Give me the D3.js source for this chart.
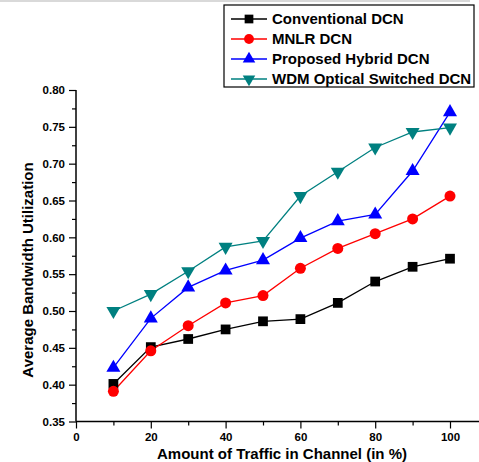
<!DOCTYPE html>
<html>
<head>
<meta charset="utf-8">
<script src="https://cdn.jsdelivr.net/npm/d3@7"></script>
<style>
  body { margin: 0; background: #fff; }
  svg { display: block; font-family: Arial, "Liberation Sans", sans-serif; }
  .tick text { font-size: 11.5px; font-weight: bold; fill: #000; }
  .axis-title { font-size: 15px; font-weight: bold; }
  .legend-label { font-size: 15px; font-weight: bold; }
</style>
</head>
<body>
<div id="chart"></div>
<script>
const traffic = [10, 20, 30, 40, 50, 60, 70, 80, 90, 100];
const conventional = [0.401, 0.451, 0.462, 0.475, 0.486, 0.489, 0.511, 0.540, 0.560, 0.571];
const mnlr = [0.391, 0.446, 0.480, 0.511, 0.521, 0.558, 0.585, 0.605, 0.625, 0.656];
const hybrid = [0.423, 0.490, 0.532, 0.555, 0.569, 0.599, 0.622, 0.631, 0.690, 0.770];
const wdm = [0.500, 0.523, 0.554, 0.587, 0.595, 0.656, 0.689, 0.722, 0.743, 0.749];
const seriesNames = ['Conventional DCN', 'MNLR DCN', 'Proposed Hybrid DCN', 'WDM Optical Switched DCN'];
const xTicks = [0, 20, 40, 60, 80, 100];
const yTicks = [0.35, 0.40, 0.45, 0.50, 0.55, 0.60, 0.65, 0.70, 0.75, 0.80];

const series = [
  { name: seriesNames[0], values: conventional, color: '#000000', symbol: d3.symbolSquare, size: 95, rot: 0 },
  { name: seriesNames[1], values: mnlr, color: '#ff0000', symbol: d3.symbolCircle, size: 95, rot: 0 },
  { name: seriesNames[2], values: hybrid, color: '#0000ff', symbol: d3.symbolTriangle, size: 85, rot: 0 },
  { name: seriesNames[3], values: wdm, color: '#008080', symbol: d3.symbolTriangle, size: 85, rot: 180 }
];

const width = 479, height = 462;

const xScale = d3.scaleLinear().domain([0, 100]).range([76, 450]);
const yScale = d3.scaleLinear().domain([0.35, 0.80]).range([421.5, 90]);

const svg = d3.select('#chart').append('svg')
    .attr('width', width)
    .attr('height', height);

// faint frame line at top
svg.append('line')
    .attr('x1', 0).attr('x2', 470)
    .attr('y1', 1).attr('y2', 1)
    .style('stroke', '#cccccc')
    .style('stroke-width', 1.5);

// x axis: minor ticks then major ticks
const xAxisG = svg.append('g').attr('transform', 'translate(0,' + yScale(0.35) + ')');
xAxisG.append('g')
    .call(d3.axisBottom(xScale).tickValues(d3.range(10, 101, 20)).tickSize(4).tickFormat(''))
    .call(g => g.select('.domain').remove());
xAxisG.append('g')
    .call(d3.axisBottom(xScale).tickValues(xTicks).tickSize(7).tickPadding(4).tickFormat(d3.format('d')))
    .call(g => g.select('.domain').remove());
xAxisG.append('line')
    .attr('x1', xScale(0)).attr('x2', width)
    .style('stroke', '#000').style('stroke-width', 1.5);
xAxisG.selectAll('.tick line').style('stroke-width', 1.2);

// y axis
const yAxisG = svg.append('g').attr('transform', 'translate(' + xScale(0) + ',0)');
yAxisG.append('g')
    .call(d3.axisLeft(yScale).tickValues(d3.range(0.375, 0.8, 0.05)).tickSize(4).tickFormat(''))
    .call(g => g.select('.domain').remove());
yAxisG.append('g')
    .call(d3.axisLeft(yScale).tickValues(yTicks).tickSize(7).tickPadding(4).tickFormat(d3.format('.2f')))
    .call(g => g.select('.domain').remove());
yAxisG.append('line')
    .attr('y1', yScale(0.80)).attr('y2', yScale(0.35))
    .style('stroke', '#000').style('stroke-width', 1.5);
yAxisG.selectAll('.tick line').style('stroke-width', 1.2);

// axis titles
svg.append('text')
    .attr('class', 'axis-title')
    .attr('x', 282)
    .attr('y', 458.5)
    .attr('text-anchor', 'middle')
    .text('Amount of Traffic in Channel (in %)');

svg.append('text')
    .attr('class', 'axis-title')
    .attr('transform', 'translate(33,270) rotate(-90)')
    .attr('text-anchor', 'middle')
    .text('Average Bandwidth Utilization');

// lines and markers
const line = d3.line()
    .x((d, i) => xScale(traffic[i]))
    .y(d => yScale(d));

const plot = svg.append('g');
series.forEach(s => {
  plot.append('path')
      .datum(s.values)
      .attr('d', line)
      .style('fill', 'none')
      .style('stroke', s.color)
      .style('stroke-width', 1.3);
});
series.forEach(s => {
  plot.append('g').selectAll('path')
      .data(s.values)
    .enter().append('path')
      .attr('d', d3.symbol().type(s.symbol).size(s.size))
      .attr('transform', (d, i) => 'translate(' + xScale(traffic[i]) + ',' + yScale(d) + ') rotate(' + s.rot + ')')
      .style('fill', s.color);
});

// legend
const legend = svg.append('g').attr('transform', 'translate(224,5)');
legend.append('rect')
    .attr('width', 250)
    .attr('height', 82)
    .style('fill', '#fff')
    .style('stroke', '#000')
    .style('stroke-width', 1.2);

const rows = legend.selectAll('g.row')
    .data(series)
  .enter().append('g')
    .attr('class', 'row')
    .attr('transform', (d, i) => 'translate(0,' + (14 + i * 20) + ')');

rows.append('line')
    .attr('x1', 7).attr('x2', 43)
    .style('stroke', d => d.color)
    .style('stroke-width', 1.3);
rows.append('path')
    .attr('d', d => d3.symbol().type(d.symbol).size(d.size * 0.8)())
    .attr('transform', d => 'translate(25,0) rotate(' + d.rot + ')')
    .style('fill', d => d.color);
rows.append('text')
    .attr('class', 'legend-label')
    .attr('x', 48)
    .attr('dy', '0.35em')
    .text(d => d.name);
</script>
</body>
</html>
